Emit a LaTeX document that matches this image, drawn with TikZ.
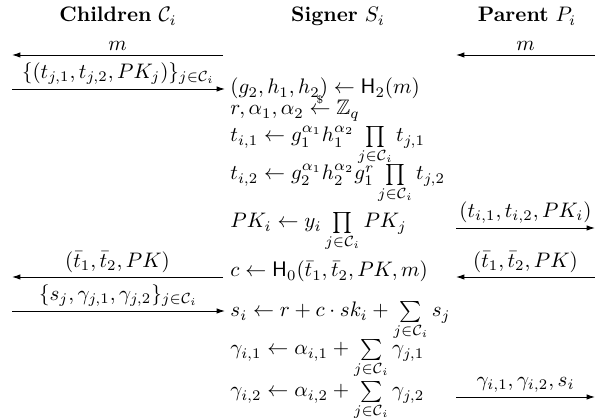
\documentclass[tikz,border=0pt]{standalone}
\usepackage{amsmath,amssymb}
\usetikzlibrary{arrows.meta}
\tikzset{
  msg/.style={draw, line width=0.45pt, -{Latex[length=4pt,width=2.6pt]}},
  lbl/.style={above, inner sep=1.8pt, midway},
  head/.style={anchor=base, inner sep=0pt},
  stmt/.style={anchor=base west, inner sep=0pt},
}
\newcommand{\Ci}{\mathcal{C}_i}
\begin{document}
\begin{tikzpicture}[x=0.476pt, y=-0.476pt]
\useasboundingbox (0,0) rectangle (595,418);
% headings
\node[head] (hc) at (118,22) {\textbf{Children} $\mathcal{C}_i$};
\node[head] (hs) at (338,22) {\textbf{Signer} $S_i$};
\node[head] (hp) at (527,22) {\textbf{Parent} $P_i$};
% signer computations
\node[stmt] (s1) at (230,94) {$(g_2,h_1,h_2) \leftarrow \mathsf{H}_2(m)$};
\node[stmt] (s2) at (230,115) {$r,\alpha_1,\alpha_2 \overset{\scriptscriptstyle\$}{\leftarrow} \mathbb{Z}_q$};
\node[stmt] (s3) at (230,142) {$t_{i,1} \leftarrow g_1^{\alpha_1} h_1^{\alpha_2} \prod\limits_{j\in\Ci} t_{j,1}$};
\node[stmt] (s4) at (230,180) {$t_{i,2} \leftarrow g_2^{\alpha_1} h_2^{\alpha_2} g_1^{r} \prod\limits_{j\in\Ci} t_{j,2}$};
\node[stmt] (s5) at (230,228) {$PK_i \leftarrow y_i \prod\limits_{j\in\Ci} PK_j$};
\node[stmt] (s6) at (230,277) {$c \leftarrow \mathsf{H}_0(\bar{t}_1,\bar{t}_2,PK,m)$};
\node[stmt] (s7) at (230,317) {$s_i \leftarrow r + c\cdot sk_i + \sum\limits_{j\in\Ci} s_j$};
\node[stmt] (s8) at (230,355) {$\gamma_{i,1} \leftarrow \alpha_{i,1} + \sum\limits_{j\in\Ci} \gamma_{j,1}$};
\node[stmt] (s9) at (230,397) {$\gamma_{i,2} \leftarrow \alpha_{i,2} + \sum\limits_{j\in\Ci} \gamma_{j,2}$};
% arrow end points
\coordinate (a1l) at (12,55);  \coordinate (a1r) at (223,55);
\coordinate (b1l) at (456,55); \coordinate (b1r) at (595,55);
\coordinate (a2l) at (12,89);  \coordinate (a2r) at (225,89);
\coordinate (b5l) at (456,228); \coordinate (b5r) at (595,228);
\coordinate (a6l) at (12,277); \coordinate (a6r) at (223,277);
\coordinate (b6l) at (456,277); \coordinate (b6r) at (595,277);
\coordinate (a7l) at (12,311); \coordinate (a7r) at (225,311);
\coordinate (b9l) at (456,397); \coordinate (b9r) at (595,397);
% messages
\draw[msg] (a1r) -- node[lbl] (m1) {$m$} (a1l);
\draw[msg] (b1r) -- node[lbl] (m2) {$m$} (b1l);
\draw[msg] (a2l) -- node[lbl] (m3) {$\{(t_{j,1},t_{j,2},PK_j)\}_{j\in\Ci}$} (a2r);
\draw[msg] (b5l) -- node[lbl] (m4) {$(t_{i,1},t_{i,2},PK_i)$} (b5r);
\draw[msg] (a6r) -- node[lbl] (m5) {$(\bar{t}_1,\bar{t}_2,PK)$} (a6l);
\draw[msg] (b6r) -- node[lbl] (m6) {$(\bar{t}_1,\bar{t}_2,PK)$} (b6l);
\draw[msg] (a7l) -- node[lbl] (m7) {$\{s_j,\gamma_{j,1},\gamma_{j,2}\}_{j\in\Ci}$} (a7r);
\draw[msg] (b9l) -- node[lbl] (m8) {$\gamma_{i,1},\gamma_{i,2},s_i$} (b9r);
\end{tikzpicture}
\end{document}
